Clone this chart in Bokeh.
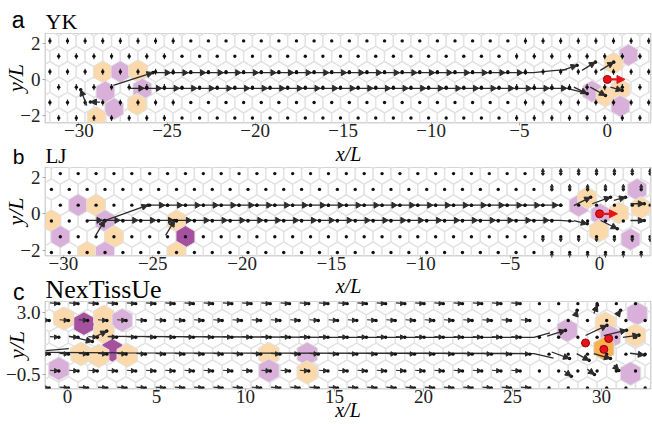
import numpy as np
from bokeh.plotting import figure
from bokeh.models import ColumnDataSource, Arrow, NormalHead, Label, FixedTicker, Range1d
from bokeh.layouts import column
from bokeh.embed import file_html
from bokeh.resources import INLINE

SERIF = "Liberation Serif"
SANS = "Liberation Sans"
O, P, DP, DO = "#fbd9aa", "#d8b0d9", "#a5519f", "#f6b250"
GRID_COL = "#e2e2e2"
INK = "#2b2b2b"
RED = "#e3141c"

# ---------------- panel a (YK) ----------------
A_XRANGE = (-31.9, 2.45)
A_YRANGE = (-2.42, 2.58)
A_XTICKS = [-30, -25, -20, -15, -10, -5, 0]
A_YTICKS = [-2, 0, 2]
A_ROWS = [-3.03, -2.165, -1.299, -0.433, 0.433, 1.299, 2.165, 3.03]
A_DX, A_DY, A_OFFS = 1.0, 0.866, (0.35, 0.85)
A_CELL_X = [-28.65, -27.65, -26.65, -28.5, -26.4, -26.7, -28.0, -29.0, 1.2, 0.36, -0.87, -0.11, 0.74, 0.74]
A_CELL_Y = [0.43, 0.43, 0.5, -0.7, -0.55, -1.4, -1.65, -2.15, 1.37, 0.91, -0.67, -0.94, -0.57, -1.5]
A_CELL_C = [O, P, O, P, P, O, P, O, P, O, P, O, O, P]
A_TRAJ = [([-25.8, -4.2, -3.07, -2.3], [0.38, 0.38, 0.5, 0.55]),
          ([-27.1, -2.3, -1.1], [-0.5, -0.5, -0.8])]
A_MARK_ROWS = [(0.38, -24.65, -4.65), (-0.5, -26.15, -2.15)]
A_ARROWS = [(-28.05, -0.34, -25.8, 0.38), (-29.56, -1.46, -29.9, -0.58), (-28.8, -1.27, -29.35, -1.27),
            (-2.57, 0.51, -1.72, 0.79), (-1.44, 0.51, -0.68, 0.97), (-0.4, 0.51, 0.36, 0.97),
            (-1.9, -0.43, -1.15, -0.8), (-0.97, -0.43, -0.11, -0.9), (0.17, -0.43, 0.84, -0.62)]
A_RED_DOTS = ([0.0], [0.0])
A_RED_ARROW = (0.0, 0.0, 1.0, 0.0)

# ---------------- panel b (LJ) ----------------
B_XRANGE = (-31.0, 2.85)
B_YRANGE = (-2.29, 2.54)
B_XTICKS = [-30, -25, -20, -15, -10, -5, 0]
B_YTICKS = [-2, 0, 2]
B_ROWS = [-2.985, -2.125, -1.259, -0.393, 0.473, 1.339, 2.205, 3.07]
B_DX, B_DY, B_OFFS = 1.0, 0.866, (0.83, 0.33)
B_CELL_X = [-29.17, -28.17, -30.67, -30.17, -27.67, -27.17, -28.67, -27.67, -23.67, -23.17, -23.67,
            -1.17, -0.69, 0.05, 1.08, -0.04, 2.1, 2.3, 1.73]
B_CELL_Y = [0.473, 0.473, -0.393, -1.259, -0.393, -1.259, -2.125, -2.125, -0.393, -1.259, -2.125,
            0.45, 0.87, -0.05, 0.05, -0.95, 1.33, 0.33, -1.4]
B_CELL_C = [P, O, O, P, P, O, O, P, O, DP, O, P, O, P, O, O, P, O, P]
B_TRAJ = [([-25.27, -2.2], [0.47, 0.47]),
          ([-28.67, -2.2, -1.44], [-0.36, -0.36, -0.42])]
B_MARK_ROWS = [(0.47, -24.17, -2.17), (-0.36, -27.67, -2.67)]
B_ARROWS = [(-28.19, -1.19, -27.69, -0.37), (-27.69, -0.37, -25.27, 0.47), (-24.28, -1.19, -23.78, -0.37),
            (-1.44, 0.45, -0.5, 0.91), (-0.41, 0.55, 0.61, 0.91), (0.8, 0.73, 1.45, 0.91),
            (-1.44, -0.37, -0.69, -0.55), (0.06, -0.37, 0.99, -0.82), (1.73, 0.55, 2.5, 0.55),
            (1.73, -0.37, 2.5, -0.37)]
B_RED_DOTS = ([0.0], [0.0])
B_RED_ARROW = (0.0, 0.0, 1.0, 0.0)

# ---------------- panel c (NexTissUe) ----------------
C_XRANGE = (-1.24, 32.75)
C_YRANGE = (-1.29, 3.62)
C_XTICKS = [0, 5, 10, 15, 20, 25, 30]
C_YTICKS = [-0.5, 3.0]
C_YTICK_LABELS = ["\u22120.5", "3.0"]
C_ROWS = [-2.205, -1.255, -0.30, 0.65, 1.60, 2.55, 3.50, 4.45]
C_DX, C_DY, C_OFFS = 1.08, 0.95, (0.59, 0.05)
C_CELL_X = [-0.21, 0.92, 2.04, 3.07, 2.04, 2.51, 0.75, 1.75, 3.35, -0.49, 11.31, 11.31, 13.46, 13.46,
            28.07, 30.22, 30.5, 30.13, 32.0, 31.9, 31.63]
C_CELL_Y = [2.66, 2.37, 2.75, 2.56, 1.90, 0.87, 0.66, 0.55, 0.58, -0.17, 0.66, -0.28, 0.66, -0.38,
            2.0, 2.37, 1.62, 0.96, 2.94, 1.71, -0.45]
C_CELL_C = [O, DP, O, P, O, DP, O, O, O, P, O, P, P, O, P, O, P, DO, P, O, P]
C_TRAJ = [([2.3, 15.0, 26.2, 27.1], [1.65, 1.6, 1.6, 1.85]),
          ([-1.24, 3.4, 20.0, 26.2, 27.3], [0.75, 0.72, 0.7, 0.68, 0.42]),
          ([-1.24, 0.07], [0.85, 0.96])]
C_MARK_ROWS = []
C_ARROWS = [(0.07, 1.67, 1.39, 1.36), (1.5, 1.6, 2.2, 1.95),
            (26.94, 1.67, 27.97, 1.99), (29.1, 1.7, 30.3, 2.27), (30.13, 1.7, 31.4, 2.0),
            (27.2, 0.77, 28.2, 0.4), (28.6, 0.68, 29.3, 0.3), (29.57, 0.68, 30.5, 0.4),
            (28.54, 2.84, 28.63, 3.12), (29.57, 2.94, 29.76, 3.41), (30.88, 2.84, 31.07, 3.12),
            (30.69, 0.02, 30.97, -0.27), (29.2, -0.2, 29.6, -0.5), (31.2, 1.6, 32.1, 1.72),
            (31.6, 0.7, 32.4, 0.6), (27.9, -0.3, 28.3, -0.6)]
C_RED_DOTS = ([29.1, 30.4, 30.13], [1.28, 1.53, 0.92])
C_RED_ARROW = None


def hexagon(cx, cy, dx, dy, s=1.0):
    yc = (dy ** 2 - dx ** 2 / 4) / (2 * dy)
    yt = dy - yc
    xs = [cx + s * v for v in (0, dx / 2, dx / 2, 0, -dx / 2, -dx / 2)]
    ys = [cy + s * v for v in (yt, yc, -yc, -yt, -yc, yc)]
    return xs, ys


def lattice(xr, rows, dx, offs):
    xs, ys = [], []
    for i, y in enumerate(rows):
        off = offs[i % 2]
        n0 = int(np.floor((xr[0] - 1.5 - off) / dx))
        n1 = int(np.ceil((xr[1] + 1.5 - off) / dx))
        for n in range(n0, n1 + 1):
            xs.append(off + n * dx)
            ys.append(y)
    return np.array(xs), np.array(ys)


def arrows(p, lst, color, width, head):
    if not lst:
        return
    a = np.array(lst, dtype=float)
    src = ColumnDataSource(dict(x0=a[:, 0], y0=a[:, 1], x1=a[:, 2], y1=a[:, 3]))
    p.add_layout(Arrow(end=NormalHead(size=head, fill_color=color, line_color=color, line_width=1),
                       x_start="x0", y_start="y0", x_end="x1", y_end="y1", source=src,
                       line_color=color, line_width=width))


def fmt(v):
    return (f"{int(v)}" if float(v).is_integer() else f"{v:g}").replace("-", "\u2212")


def strip(h, letter, letter_mid, letter_size):
    """Text strip: its frame spans x 45..650 (aligned with the panels); the panel letter is the
    single tick label of its left axis, so it can sit left of the frame."""
    s = figure(width=652, height=h, x_range=Range1d(0, 605), y_range=Range1d(0, h),
               x_axis_type=None, min_border_left=45, min_border_right=2, min_border_top=0,
               min_border_bottom=0, toolbar_location=None, output_backend="svg", title=None)
    s.outline_line_color = None
    s.grid.visible = False
    ax = s.yaxis[0]
    tick = int(round(h - letter_mid))
    ax.ticker = FixedTicker(ticks=[tick])
    ax.major_label_overrides = {tick: letter}
    ax.axis_line_color = None
    ax.major_tick_line_color = None
    ax.minor_tick_line_color = None
    ax.major_tick_out = 0
    ax.major_label_standoff = 21
    ax.major_label_text_font = SANS
    ax.major_label_text_font_size = f"{letter_size}px"
    ax.major_label_text_color = "black"
    return s


def lab(s, x, y_mid, text, font, size, style="normal", align="left"):
    # x: canvas pixels; y_mid: vertical centre of the text box, pixels from the strip's top
    s.add_layout(Label(x=x - 45, y=s.height - y_mid, text=text, text_font=font,
                       text_font_size=f"{size}px", text_font_style=style, text_align=align,
                       text_baseline="middle", text_color="black"))


def panel(h, bottom, xr, yr, xt, yt, ytlabels, ylab_standoff, xlabel, rows, dx, dy, offs, cx, cy, cc,
          traj, mark_rows, arr, red_dots, red_arrow, style):
    p = figure(width=652, height=h, x_range=Range1d(*xr), y_range=Range1d(*yr),
               min_border_left=45, min_border_right=2, min_border_top=0, min_border_bottom=bottom,
               toolbar_location=None, output_backend="svg")
    p.grid.visible = False
    p.outline_line_color = "#a8a8a8"
    p.outline_line_width = 1.5
    for ax, ticks, labels in ((p.xaxis[0], xt, None), (p.yaxis[0], yt, ytlabels)):
        ax.ticker = FixedTicker(ticks=ticks)
        ax.major_label_overrides = {t: (labels[i] if labels else fmt(t)) for i, t in enumerate(ticks)}
        ax.axis_line_color = None
        ax.major_tick_line_color = "#a8a8a8"
        ax.major_tick_out = 3
        ax.major_tick_in = 0
        ax.minor_tick_line_color = None
        ax.major_label_text_font = SERIF
        ax.major_label_text_font_size = "19px"
        ax.major_label_text_color = "#222222"
        ax.axis_label_text_font = SERIF
        ax.axis_label_text_font_style = "italic"
        ax.axis_label_text_color = "black"
    p.xaxis[0].major_label_standoff = -2
    p.yaxis[0].major_label_standoff = 2
    p.yaxis[0].axis_label = "y/L"
    p.yaxis[0].axis_label_text_font_size = "22px"
    p.yaxis[0].axis_label_standoff = ylab_standoff
    if xlabel:
        p.xaxis[0].axis_label = "x/L"
        p.xaxis[0].axis_label_text_font_size = "20px"
        p.xaxis[0].axis_label_standoff = -7

    lx, ly = lattice(xr, rows, dx, offs)
    hx, hy = zip(*[hexagon(x, y, dx, dy) for x, y in zip(lx, ly)])
    p.patches(list(hx), list(hy), fill_color="white", line_color=GRID_COL, line_width=1.4)
    cxs, cys = zip(*[hexagon(x, y, dx, dy, 1.06) for x, y in zip(cx, cy)])
    p.patches(list(cxs), list(cys), fill_color=cc, line_color=GRID_COL, line_width=1.0)

    for tx, ty in traj:
        p.line(tx, ty, line_color=INK, line_width=1.3)

    inside = [i for i, y in enumerate(ly) if yr[0] < y < yr[1]]
    # per-cell velocity marks
    if style == "a":
        keep = [i for i in inside if lx[i] < -24.3 or lx[i] > -5.5]
        sx, sy = lx[keep], ly[keep]
        p.segment(sx, sy - 0.17, sx, sy + 0.17, line_color=INK, line_width=1.2)
    elif style == "b":
        keep = [i for i in inside if lx[i] > -3.3 and abs(ly[i]) > 1.0]
        ups = [(lx[i], ly[i] - 0.12, lx[i], ly[i] + (0.28 if ly[i] > 0 else -0.28)) for i in keep]
        arrows(p, ups, INK, 1.0, 3)
    else:
        keep = [i for i in inside if lx[i] < 26.5]
        sx, sy = lx[keep], ly[keep]
        p.segment(sx - 0.5, sy + 0.04, sx, sy, line_color=INK, line_width=1.1)
        p.scatter(sx - 0.17, sy + 0.01, marker="triangle", angle=-np.pi / 2, size=4.5,
                  fill_color=INK, line_color=INK)

    p.scatter(lx, ly, size=3.4, fill_color="#111111", line_color=None)

    for y, xa, xb in mark_rows:
        mx = np.arange(xa, xb + 0.01, dx)
        p.scatter(mx - 0.35, np.full(len(mx), y), marker="triangle", angle=-np.pi / 2, size=6,
                  fill_color=INK, line_color=INK)
        p.scatter(mx, np.full(len(mx), y), size=3.4, fill_color="#111111", line_color=None)

    arrows(p, arr, INK, 1.3, 6)
    p.scatter([a[2] for a in arr], [a[3] for a in arr], size=3.6, fill_color="#111111", line_color=None)

    if red_arrow is not None:
        arrows(p, [red_arrow], RED, 2.2, 8)
    p.scatter(red_dots[0], red_dots[1], size=8, fill_color=RED, line_color="#a00000")
    return p


# strip above panel a (33 px): letter + title
s1 = strip(33, "a", 19, 23)
lab(s1, 45, 20.5, "YK", SERIF, 22)

pa = panel(111, 22, A_XRANGE, A_YRANGE, A_XTICKS, A_YTICKS, None, -11, False, A_ROWS, A_DX, A_DY, A_OFFS,
           A_CELL_X, A_CELL_Y, A_CELL_C, A_TRAJ, A_MARK_ROWS, A_ARROWS, A_RED_DOTS, A_RED_ARROW, "a")

# strip between a and b (23 px): x-label of a, title of b
s2 = strip(23, "b", 11, 21)
lab(s2, 348, 9, "x/L", SERIF, 20, "italic", "center")
lab(s2, 45, 11, "LJ", SERIF, 21)

pb = panel(110, 22, B_XRANGE, B_YRANGE, B_XTICKS, B_YTICKS, None, -11, False, B_ROWS, B_DX, B_DY, B_OFFS,
           B_CELL_X, B_CELL_Y, B_CELL_C, B_TRAJ, B_MARK_ROWS, B_ARROWS, B_RED_DOTS, B_RED_ARROW, "b")

# strip between b and c (24 px): x-label of b, title of c
s3 = strip(24, "c", 12, 23)
lab(s3, 348, 8, "x/L", SERIF, 20, "italic", "center")
lab(s3, 45, 11.5, "NexTissUe", SERIF, 26)

pc = panel(123, 36, C_XRANGE, C_YRANGE, C_XTICKS, C_YTICKS, C_YTICK_LABELS, -26, True, C_ROWS, C_DX, C_DY,
           C_OFFS, C_CELL_X, C_CELL_Y, C_CELL_C, C_TRAJ, C_MARK_ROWS, C_ARROWS, C_RED_DOTS, C_RED_ARROW, "c")

layout = column(s1, pa, s2, pb, s3, pc, spacing=0)
open("out.html", "w").write(file_html(layout, INLINE))
